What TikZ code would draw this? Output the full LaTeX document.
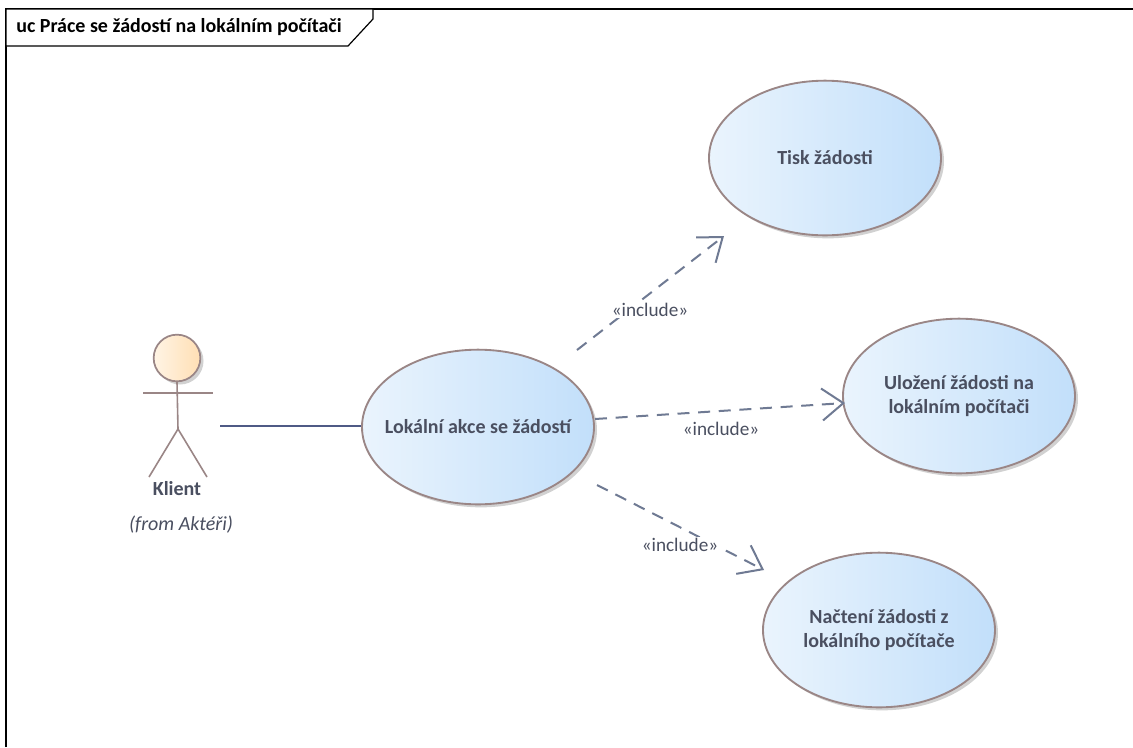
\documentclass[tikz,border=0pt]{standalone}
\usepackage{fontspec}
\setmainfont{Carlito}
\usetikzlibrary{arrows.meta,shapes.geometric}
\definecolor{txt}{HTML}{4A4F60}
\definecolor{ucedge}{HTML}{9A8686}
\definecolor{conn}{HTML}{6F7A93}
\definecolor{assoc}{HTML}{4F5A85}
\definecolor{ucl}{HTML}{EAF4FD}
\definecolor{ucr}{HTML}{C2DFFA}
\definecolor{headl}{HTML}{FFF4E4}
\definecolor{headr}{HTML}{FFDFB5}
\tikzset{
  uc/.style={ellipse,draw=ucedge,line width=1.4pt,minimum width=174pt,minimum height=116pt,inner sep=0pt,
    left color=ucl,right color=ucr,align=center,text=txt,font=\fontsize{15}{18.5}\selectfont\bfseries},
  ucsh/.style={ellipse,fill=black!18,minimum width=174pt,minimum height=116pt,inner sep=0pt},
  incl/.style={draw=conn,line width=1.5pt,dash pattern=on 9pt off 6.5pt,-{Straight Barb[length=16pt,width=24pt,line width=1.5pt,color=conn]}},
  lbl/.style={font=\fontsize{14.4}{17}\selectfont,text=txt,fill=white,inner sep=1pt},
  stick/.style={draw=ucedge,line width=1.2pt},
}
\begin{document}
\begin{tikzpicture}[x=0.75pt,y=-0.75pt]
\useasboundingbox (0,0) rectangle (1133,747);
\fill[white] (0,0) rectangle (1133,747);
% frame
\draw[black,line width=0.9pt] (6,747) -- (6,9) -- (1133,9);
\draw[black,line width=0.9pt,fill=white] (6,9) -- (373,9) -- (373,19) -- (348,46) -- (6,46) -- cycle;
\node[anchor=west,inner sep=0pt,text=black,font=\fontsize{15}{18}\selectfont\bfseries] (title) at (16,27.5) {uc Práce se žádostí na lokálním počítači};
% shadows
\node[ucsh] at (828,161) {};
\node[ucsh] at (962,399) {};
\node[ucsh] at (481,430) {};
\node[ucsh] at (882,633) {};
% use cases
\node[uc] (tisk) at (825,158) {Tisk žádosti};
\node[uc] (ulozeni) at (959,396) {Uložení žádosti na\\lokálním počítači};
\node[uc] (akce) at (478,427) {\makebox[0pt][c]{Lokální akce se žádostí}};
\node[uc] (nacteni) at (879,630) {Načtení žádosti z\\lokálního počítače};
% actor
\fill[black!18] (180,361) circle (23.5);
\node[circle,draw=ucedge,line width=1.3pt,minimum size=35pt,inner sep=0pt,left color=headl,right color=headr] (head) at (177,358) {};
\coordinate (hip) at (178,429);
\coordinate (armL) at (143,393);
\coordinate (armR) at (213,393);
\coordinate (legL) at (149,477);
\coordinate (legR) at (207,477);
\draw[stick] (head.south) -- (hip) -- (legL);
\draw[stick] (hip) -- (legR);
\draw[stick] (armL) -- (armR);
\node[font=\fontsize{15}{18}\selectfont\bfseries,text=txt,inner sep=0pt] (klient) at (177,489) {Klient};
\node[font=\fontsize{15}{18}\selectfont\itshape,text=txt,inner sep=0pt] (from) at (181,525) {(from Aktéři)};
% connectors
\coordinate (assocstart) at (220,426);
\draw[assoc,line width=1pt] (assocstart) -- (akce.west |- assocstart);
\coordinate (s1) at (577,350);
\coordinate (e1) at (724,236);
\coordinate (s2) at (595,419);
\coordinate (e2) at (845,403);
\coordinate (s3) at (597,485);
\coordinate (e3) at (764,570);
\draw[incl] (s1) -- (e1);
\draw[incl] (s2) -- (e2);
\draw[incl] (s3) -- (e3);
\node[lbl] (l1) at (650,310) {«include»};
\node[lbl] (l2) at (721,429) {«include»};
\node[lbl] (l3) at (680,545) {«include»};
\end{tikzpicture}
\end{document}
